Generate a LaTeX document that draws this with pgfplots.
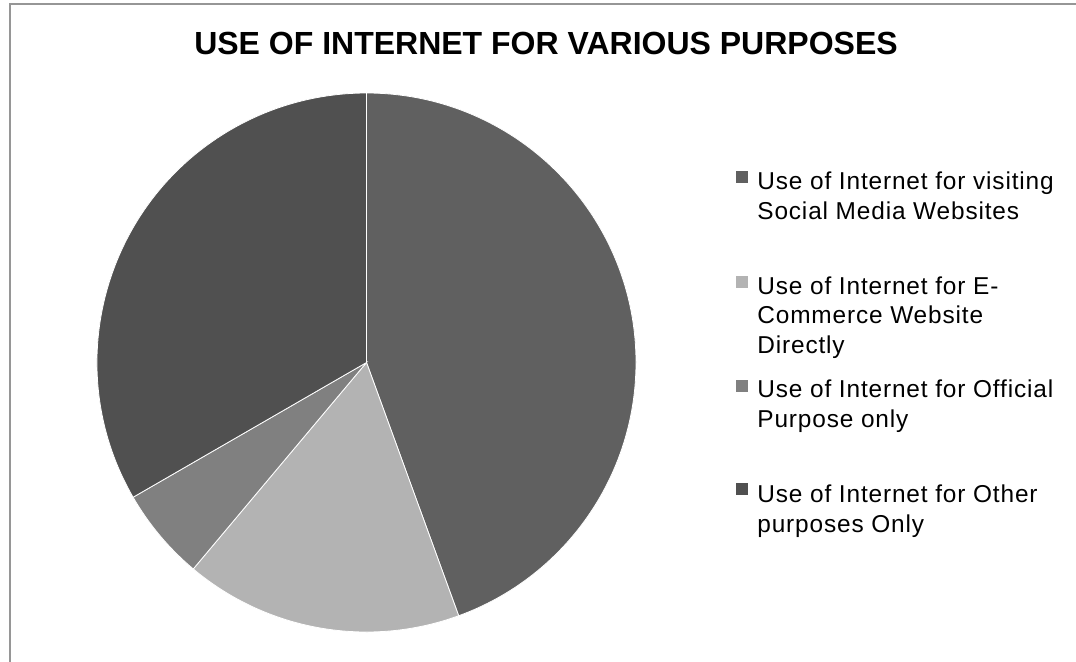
\documentclass[border=0pt]{standalone}
\usepackage{pgfplots}
\usepackage{pgfplotstable}
\pgfplotsset{compat=1.18}
\usepackage{fontspec}
\setmainfont{Liberation Sans}
\newfontfamily\legfont[LetterSpace=3.5]{Liberation Sans}
\definecolor{cSoc}{HTML}{606060}
\definecolor{cEco}{HTML}{B3B3B3}
\definecolor{cOff}{HTML}{808080}
\definecolor{cOth}{HTML}{505050}
\definecolor{frame}{HTML}{969696}

% shares of respondents
\pgfplotstableread{
value
8
3
1
6
}\piedata

\newcommand\legtext{\legfont\fontsize{12.2}{13}\selectfont}

\begin{document}
\begin{tikzpicture}
\pgfplotstablegetelem{0}{value}\of\piedata \let\vA\pgfplotsretval
\pgfplotstablegetelem{1}{value}\of\piedata \let\vB\pgfplotsretval
\pgfplotstablegetelem{2}{value}\of\piedata \let\vC\pgfplotsretval
\pgfplotstablegetelem{3}{value}\of\piedata \let\vD\pgfplotsretval
\pgfmathsetmacro\tot{\vA+\vB+\vC+\vD}
\pgfmathsetmacro\aO{90}
\pgfmathsetmacro\aA{\aO-360*\vA/\tot}
\pgfmathsetmacro\aB{\aA-360*\vB/\tot}
\pgfmathsetmacro\aC{\aB-360*\vC/\tot}
\pgfmathsetmacro\aD{\aC-360*\vD/\tot}
\def\R{134.75pt}
\begin{axis}[x=0.5pt, y=0.5pt, xmin=0, xmax=1076, ymin=0, ymax=661,
  hide axis, clip=false, scale only axis]
% frame
\draw[frame, line width=1pt] (axis cs:9.5,-20) -- (axis cs:9.5,657.5) -- (axis cs:1100,657.5);
% title
\node[anchor=base, inner sep=0pt] at (axis cs:546,607)
  {\fontsize{16}{19}\selectfont\bfseries USE OF INTERNET FOR VARIOUS PURPOSES};
% pie
\filldraw[fill=cSoc, draw=white, line width=0.4pt] (axis cs:366.5,298.5) -- ++(\aO:\R)
  arc[start angle=\aO, end angle=\aA, radius=\R] -- cycle;
\filldraw[fill=cEco, draw=white, line width=0.4pt] (axis cs:366.5,298.5) -- ++(\aA:\R)
  arc[start angle=\aA, end angle=\aB, radius=\R] -- cycle;
\filldraw[fill=cOff, draw=white, line width=0.4pt] (axis cs:366.5,298.5) -- ++(\aB:\R)
  arc[start angle=\aB, end angle=\aC, radius=\R] -- cycle;
\filldraw[fill=cOth, draw=white, line width=0.4pt] (axis cs:366.5,298.5) -- ++(\aC:\R)
  arc[start angle=\aC, end angle=\aD, radius=\R] -- cycle;
% legend
\fill[cSoc] (axis cs:736,490) rectangle (axis cs:748,478);
\fill[cEco] (axis cs:736,385) rectangle (axis cs:748,373);
\fill[cOff] (axis cs:736,281) rectangle (axis cs:748,269);
\fill[cOth] (axis cs:736,178) rectangle (axis cs:748,166);
\node[anchor=base west, inner sep=0pt] at (axis cs:757,472) {\legtext Use of Internet for visiting};
\node[anchor=base west, inner sep=0pt] at (axis cs:757,442) {\legtext Social Media Websites};
\node[anchor=base west, inner sep=0pt] at (axis cs:757,367) {\legtext Use of Internet for E-};
\node[anchor=base west, inner sep=0pt] at (axis cs:757,338) {\legtext Commerce Website};
\node[anchor=base west, inner sep=0pt] at (axis cs:757,308) {\legtext Directly};
\node[anchor=base west, inner sep=0pt] at (axis cs:757,264) {\legtext Use of Internet for Official};
\node[anchor=base west, inner sep=0pt] at (axis cs:757,234) {\legtext Purpose only};
\node[anchor=base west, inner sep=0pt] at (axis cs:757,159) {\legtext Use of Internet for Other};
\node[anchor=base west, inner sep=0pt] at (axis cs:757,129) {\legtext purposes Only};
\end{axis}
\pgfresetboundingbox
\path (0,0) rectangle (538pt,330.5pt);
\end{tikzpicture}
\end{document}
